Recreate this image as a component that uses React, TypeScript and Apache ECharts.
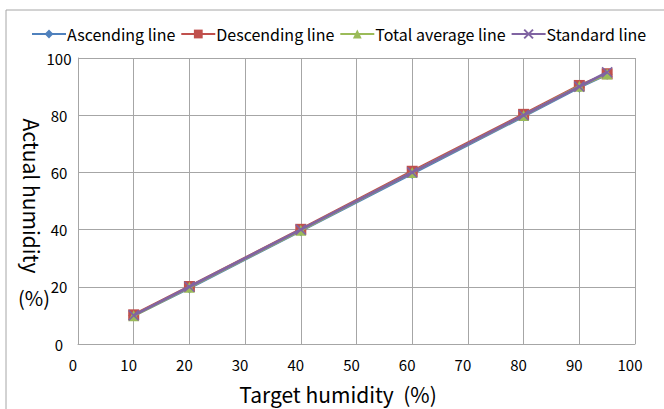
import React, { useEffect, useRef } from "react";
import * as echarts from "echarts";

const targets = [10, 20, 40, 60, 80, 90, 95];
const ascending = [10, 19.6, 39.6, 59.6, 79.6, 89.8, 94.3];
const descending = [10.2, 20.1, 40.1, 60.4, 80.3, 90.4, 94.5];
const totalAverage = [9.9, 19.8, 39.8, 60.0, 79.9, 90.1, 94.4];
const standard = [10, 20, 40, 60, 80, 90, 95];

const seriesNames = ["Ascending line", "Descending line", "Total average line", "Standard line"];
const seriesColors = ["#4F81BD", "#C0504D", "#9BBB59", "#8064A2"];
const seriesSymbols = ["diamond", "rect", "triangle", "path://M0,0 L10,10 M10,0 L0,10"];
const seriesSymbolSizes = [11, 11, 11, 10];

const FONT = "Noto Sans CJK SC";

export default function App() {
  const ref = useRef<HTMLDivElement>(null);
  useEffect(() => {
    if (!ref.current) return;
    const chart = echarts.init(ref.current, undefined, { renderer: "svg" });
    const values = [ascending, descending, totalAverage, standard];
    const series = values.map((vals, i) => ({
      name: seriesNames[i],
      type: "line",
      data: targets.map((t, j) => [t, vals[j]]),
      symbol: seriesSymbols[i],
      symbolSize: seriesSymbolSizes[i],
      showSymbol: true,
      lineStyle: { color: seriesColors[i], width: 2.75 },
      itemStyle:
        i === 3
          ? { color: "none", borderColor: seriesColors[i], borderWidth: 1.5 }
          : { color: seriesColors[i], borderColor: seriesColors[i], borderWidth: 0 },
      z: 2 + i,
    }));
    chart.setOption({
      animation: false,
      textStyle: { fontFamily: FONT },
      grid: { left: 78, top: 58, right: 29, bottom: 65, containLabel: false },
      legend: {
        top: 21,
        left: 26,
        itemWidth: 34,
        itemHeight: 11,
        itemGap: 5,
        data: seriesNames,
        textStyle: { fontSize: 16, color: "#000", fontFamily: FONT, padding: [0, 0, 0, -4] },
      },
      xAxis: {
        type: "value",
        min: 0,
        max: 100,
        interval: 10,
        axisLine: { show: true, lineStyle: { color: "#A6A6A6", width: 1 } },
        axisTick: { show: false },
        splitLine: { show: true, lineStyle: { color: "#A6A6A6", width: 1 } },
        axisLabel: {
          fontSize: 15,
          color: "#000",
          margin: 13,
          fontFamily: FONT,
          padding: [0, 10, 0, 0],
        },
      },
      yAxis: {
        type: "value",
        min: 0,
        max: 100,
        interval: 20,
        axisLine: { show: true, lineStyle: { color: "#A6A6A6", width: 1 } },
        axisTick: { show: false },
        splitLine: { show: true, lineStyle: { color: "#A6A6A6", width: 1 } },
        axisLabel: {
          fontSize: 15,
          color: "#000",
          margin: 19,
          align: "center",
          fontFamily: FONT,
        },
      },
      graphic: [
        {
          type: "rect",
          shape: { x: 6, y: 10, width: 800, height: 600 },
          style: { fill: "none", stroke: "#A6A6A6", lineWidth: 1 },
          silent: true,
          z: -1,
        },
        {
          type: "text",
          x: 32,
          y: 196,
          rotation: -Math.PI / 2,
          style: {
            text: "Actual humidity",
            fontSize: 21,
            fontFamily: FONT,
            fill: "#000",
            align: "center",
            verticalAlign: "middle",
          },
        },
        {
          type: "text",
          x: 34,
          y: 297,
          style: {
            text: "(%)",
            fontSize: 20,
            fontFamily: FONT,
            fill: "#000",
            align: "center",
            verticalAlign: "middle",
          },
        },
        {
          type: "text",
          x: 338,
          y: 394,
          style: {
            text: "Target humidity  (%)",
            fontSize: 21,
            fontFamily: FONT,
            fill: "#000",
            align: "center",
            verticalAlign: "middle",
          },
        },
      ],
      series,
    });
    return () => chart.dispose();
  }, []);
  return (
    <div
      ref={ref}
      style={{ position: "fixed", left: 0, top: 0, width: 664, height: 409, background: "#fff" }}
    />
  );
}
